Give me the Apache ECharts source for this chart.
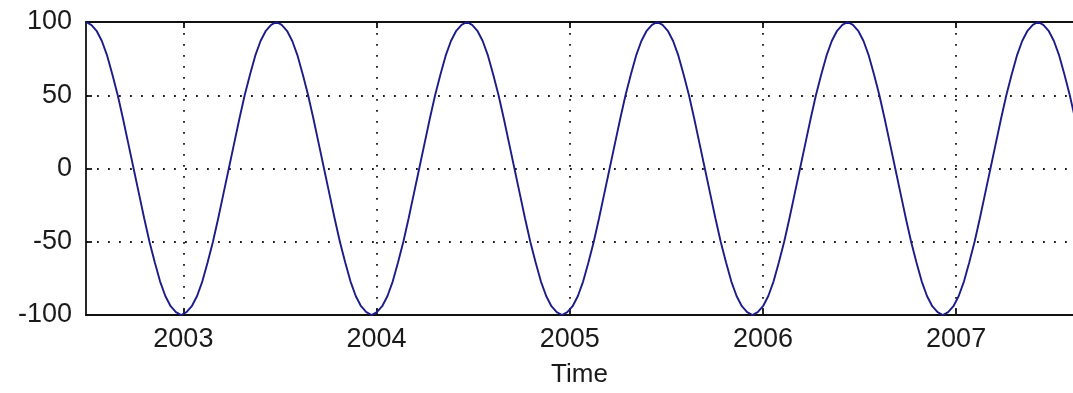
<!DOCTYPE html>
<html>
<head>
<meta charset="utf-8">
<title>Time</title>
<script src="https://cdn.jsdelivr.net/npm/echarts@6/dist/echarts.min.js"></script>
<style>
  html, body { margin: 0; padding: 0; background: #ffffff; }
  #chart { width: 1073px; height: 393px; }
</style>
</head>
<body>
<div id="chart"></div>
<script>
// Sampling: one reading every 10 days, first reading at 2002-07-01 (decimal year).
const sampleStartYear = 2002.496;
const sampleStepDays = 10;

// Readings (same units as the y axis), in sampling order.
const signalValues = [
  100, 98, 94, 87, 77, 64, 50, 34, 17, 0, -17, -34, -50, -64, -77, -87, -94, -98,
  -100, -98, -94, -87, -77, -64, -50, -34, -17, 0, 17, 34, 50, 64, 77, 87, 94, 98,
  100, 98, 94, 87, 77, 64, 50, 34, 17, 0, -17, -34, -50, -64, -77, -87, -94, -98,
  -100, -98, -94, -87, -77, -64, -50, -34, -17, 0, 17, 34, 50, 64, 77, 87, 94, 98,
  100, 98, 94, 87, 77, 64, 50, 34, 17, 0, -17, -34, -50, -64, -77, -87, -94, -98,
  -100, -98, -94, -87, -77, -64, -50, -34, -17, 0, 17, 34, 50, 64, 77, 87, 94, 98,
  100, 98, 94, 87, 77, 64, 50, 34, 17, 0, -17, -34, -50, -64, -77, -87, -94, -98,
  -100, -98, -94, -87, -77, -64, -50, -34, -17, 0, 17, 34, 50, 64, 77, 87, 94, 98,
  100, 98, 94, 87, 77, 64, 50, 34, 17, 0, -17, -34, -50, -64, -77, -87, -94, -98,
  -100, -98, -94, -87, -77, -64, -50, -34, -17, 0, 17, 34, 50, 64, 77, 87, 94, 98,
  100, 98, 94, 87, 77, 64, 50, 34, 17, 0
];

// Year ticks on the time axis and value ticks on the y axis.
const yearTicks = [2003, 2004, 2005, 2006, 2007];
const valueTicks = [-100, -50, 0, 50, 100];

const xRange = [2002.496, 2007.605];
const yRange = [-100, 100];

const seriesData = signalValues.map((v, i) => [sampleStartYear + i * sampleStepDays / 365.25, v]);

const FONT = '"Liberation Sans", Arial, sans-serif';
const TEXT_COLOR = '#1a1a1a';
const gridLine = { color: '#1a1a1a', width: 1.8, type: [1.8, 9.2] };

const chart = echarts.init(document.getElementById('chart'), null, { renderer: 'canvas' });

chart.setOption({
  animation: false,
  backgroundColor: '#ffffff',
  grid: { left: 86, right: 0, top: 22, bottom: 76, containLabel: false },
  xAxis: [
    {
      type: 'value',
      position: 'bottom',
      min: xRange[0],
      max: xRange[1],
      name: 'Time',
      nameLocation: 'middle',
      nameGap: 47,
      nameTextStyle: { fontFamily: FONT, fontSize: 26, color: TEXT_COLOR },
      axisLine: { onZero: false, lineStyle: { color: '#111', width: 1.8 } },
      axisTick: { inside: true, length: 6, customValues: yearTicks, lineStyle: { color: '#111', width: 1.8 } },
      axisLabel: {
        customValues: yearTicks,
        formatter: v => String(Math.round(v)),
        fontFamily: FONT, fontSize: 27, color: TEXT_COLOR, margin: 11
      },
      splitLine: { show: true, lineStyle: gridLine }
    },
    {
      type: 'value',
      position: 'top',
      min: xRange[0],
      max: xRange[1],
      axisLine: { onZero: false, lineStyle: { color: '#111', width: 1.8 } },
      axisTick: { inside: true, length: 6, customValues: yearTicks, lineStyle: { color: '#111', width: 1.8 } },
      axisLabel: { show: false },
      splitLine: { show: false }
    }
  ],
  yAxis: {
    type: 'value',
    min: yRange[0],
    max: yRange[1],
    interval: 50,
    axisLine: { show: true, onZero: false, lineStyle: { color: '#111', width: 1.8 } },
    axisTick: { show: true, inside: true, length: 6, lineStyle: { color: '#111', width: 1.8 } },
    axisLabel: {
      customValues: valueTicks,
      fontFamily: FONT, fontSize: 27, color: TEXT_COLOR, margin: 14
    },
    splitLine: { show: true, lineStyle: gridLine }
  },
  series: [
    {
      type: 'line',
      xAxisIndex: 0,
      data: seriesData,
      showSymbol: false,
      clip: true,
      lineStyle: { color: '#1c1c88', width: 1.9 }
    }
  ]
});
</script>
</body>
</html>
